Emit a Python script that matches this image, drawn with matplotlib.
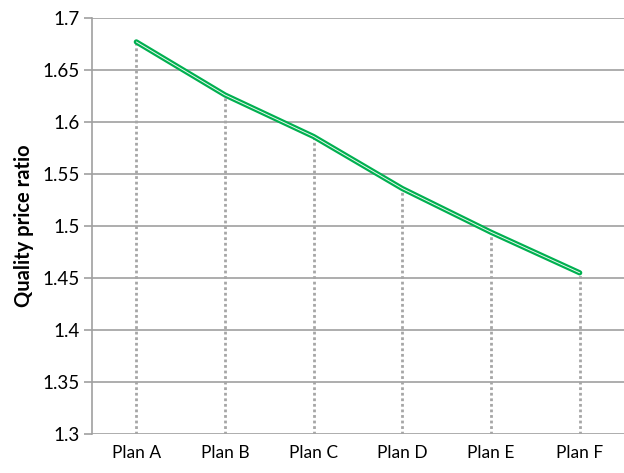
import matplotlib
matplotlib.use("Agg")
import matplotlib.pyplot as plt

plans = ["Plan A", "Plan B", "Plan C", "Plan D", "Plan E", "Plan F"]
ratio = [1.677, 1.626, 1.586, 1.536, 1.494, 1.455]

plt.rcParams['font.family'] = ['Lato', 'DejaVu Sans']

fig = plt.figure(figsize=(6.24, 4.73), dpi=100)
ax = fig.add_axes([92 / 624, 1 - 434 / 473, 532 / 624, 416 / 473])

x = list(range(len(plans)))
ymin = 1.3

# drop lines down to the category axis
for xi, yi in zip(x, ratio):
    ax.plot([xi, xi], [ymin, yi], color="#a6a6a6", lw=2, ls=(0, (1, 1)), zorder=2)

# green line with a thin light stripe through the middle
ax.plot(x, ratio, color="#00b050", lw=3.8, solid_capstyle="round", zorder=3)
ax.plot(x, ratio, color="#e8f8ee", lw=0.7, solid_capstyle="round", zorder=4)

ax.set_xlim(-0.5, 5.5)
ax.set_ylim(1.3, 1.7)
ax.set_yticks([1.3 + 0.05 * i for i in range(9)])
ax.set_yticklabels(["1.3", "1.35", "1.4", "1.45", "1.5", "1.55", "1.6", "1.65", "1.7"])
ax.set_xticks(x)
ax.set_xticklabels(plans)

ax.yaxis.grid(True, color="#a0a0a0", lw=1.2)
ax.set_axisbelow(True)
for s in ["top", "right", "bottom"]:
    ax.spines[s].set_visible(False)
ax.spines["left"].set_color("#a0a0a0")
ax.spines["left"].set_linewidth(1.2)

ax.tick_params(axis="y", length=6, width=1.2, color="#a0a0a0", labelsize=13.5, pad=3)
ax.tick_params(axis="x", length=0, labelsize=12.5, pad=8)
ax.set_ylabel("Quality price ratio", fontsize=14.5, fontweight="bold", labelpad=6)

fig.savefig("out.png", dpi=100)
